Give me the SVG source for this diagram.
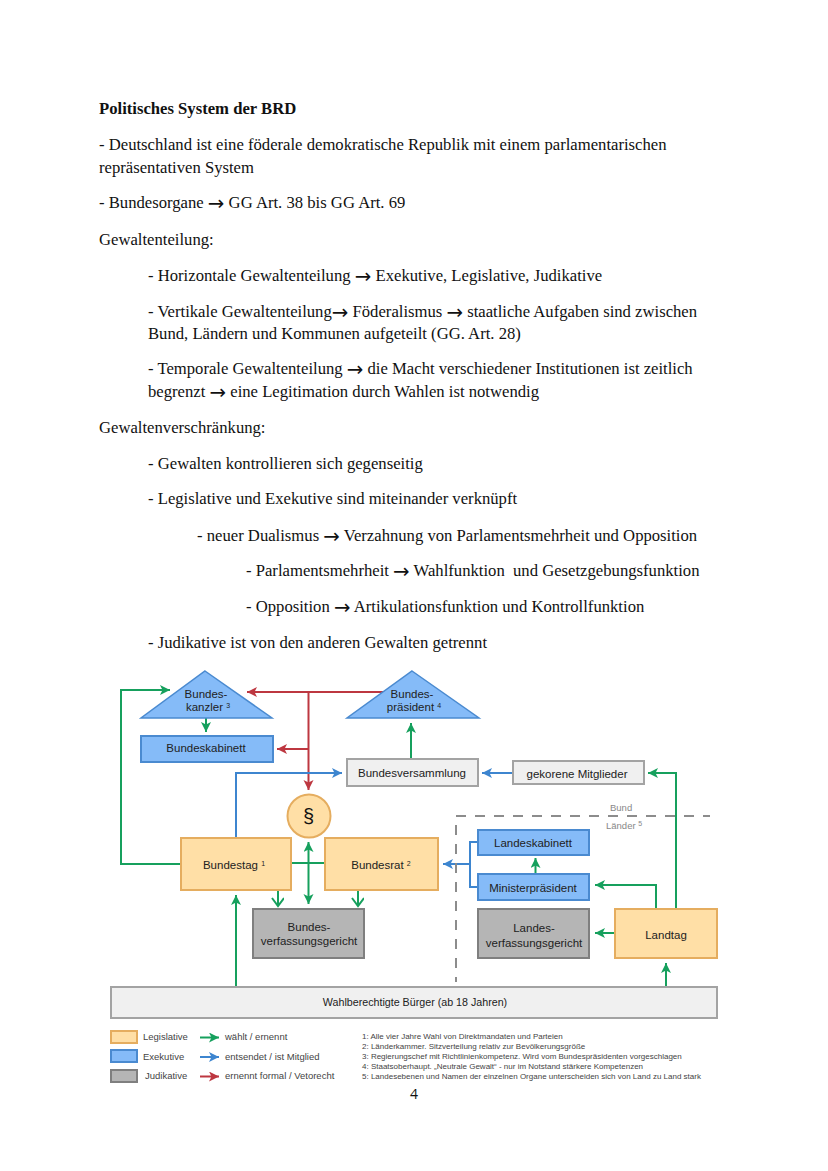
<svg xmlns="http://www.w3.org/2000/svg" width="828" height="1171" viewBox="0 0 828 1171">
<style>
.t{font:16.67px "Liberation Serif",serif;fill:#111}
.a{font-family:"DejaVu Sans",sans-serif;font-size:19.8px;baseline-shift:-1.500px}
.b{font-weight:bold}
.n{font:11.5px "Liberation Sans",sans-serif;fill:#222;text-anchor:middle}
.s{font-size:7px}
.l{font:9.5px "Liberation Sans",sans-serif;fill:#444}
.f{font:8px "Liberation Sans",sans-serif;fill:#444}
.leg{fill:#ffdfa6;stroke:#e5ad5f;stroke-width:2}
.exe{fill:#85bbf8;stroke:#4a8ad0;stroke-width:2}
.jud{fill:#b5b5b5;stroke:#7f7f7f;stroke-width:2}
.gry{fill:#f0f0f0;stroke:#a3a3a3;stroke-width:2}
.tri{stroke-width:1.500}
.c{fill:none;stroke-width:2}
.g{stroke:#16a05d}.bl{stroke:#3d85cf}.r{stroke:#bd3740}
.d{fill:none;stroke:#8c8c8c;stroke-width:2;stroke-dasharray:10 9}
</style>
<defs>
<marker id="ag" markerUnits="userSpaceOnUse" markerWidth="12" markerHeight="12" refX="10" refY="5" orient="auto-start-reverse"><path d="M0 0L10 5L0 10L2.500 5Z" fill="#16a05d"/></marker>
<marker id="ab" markerUnits="userSpaceOnUse" markerWidth="12" markerHeight="12" refX="10" refY="5" orient="auto"><path d="M0 0L10 5L0 10L2.500 5Z" fill="#3d85cf"/></marker>
<marker id="ar" markerUnits="userSpaceOnUse" markerWidth="12" markerHeight="12" refX="10" refY="5" orient="auto"><path d="M0 0L10 5L0 10L2.500 5Z" fill="#bd3740"/></marker>
<marker id="og" markerUnits="userSpaceOnUse" markerWidth="14" markerHeight="14" refX="10" refY="6" orient="auto"><path d="M2 0L10 6L2 12" fill="none" stroke="#16a05d" stroke-width="2"/></marker>
</defs>

<g id="text">
<text class="t b" x="99" y="114">Politisches System der BRD</text>
<text class="t" x="99" y="150">- Deutschland ist eine föderale demokratische Republik mit einem parlamentarischen</text>
<text class="t" x="99" y="173">repräsentativen System</text>
<text class="t" x="99" y="208">- Bundesorgane <tspan class="a">→</tspan> GG Art. 38 bis GG Art. 69</text>
<text class="t" x="99" y="245">Gewaltenteilung:</text>
<text class="t" x="148" y="281">- Horizontale Gewaltenteilung <tspan class="a">→</tspan> Exekutive, Legislative, Judikative</text>
<text class="t" x="148" y="317">- Vertikale Gewaltenteilung<tspan class="a">→</tspan> Föderalismus <tspan class="a">→</tspan> staatliche Aufgaben sind zwischen</text>
<text class="t" x="148" y="339">Bund, Ländern und Kommunen aufgeteilt (GG. Art. 28)</text>
<text class="t" x="148" y="374">- Temporale Gewaltenteilung <tspan class="a">→</tspan> die Macht verschiedener Institutionen ist zeitlich</text>
<text class="t" x="148" y="397">begrenzt <tspan class="a">→</tspan> eine Legitimation durch Wahlen ist notwendig</text>
<text class="t" x="99" y="433">Gewaltenverschränkung:</text>
<text class="t" x="148" y="469">- Gewalten kontrollieren sich gegenseitig</text>
<text class="t" x="148" y="504">- Legislative und Exekutive sind miteinander verknüpft</text>
<text class="t" x="197" y="541">- neuer Dualismus <tspan class="a">→</tspan> Verzahnung von Parlamentsmehrheit und Opposition</text>
<text class="t" x="246" y="576" xml:space="preserve">- Parlamentsmehrheit <tspan class="a">→</tspan> Wahlfunktion  und Gesetzgebungsfunktion</text>
<text class="t" x="246" y="612">- Opposition <tspan class="a">→</tspan> Artikulationsfunktion und Kontrollfunktion</text>
<text class="t" x="148" y="648">- Judikative ist von den anderen Gewalten getrennt</text>
</g>

<g id="connectors">
<path class="c g" d="M181 864H121V690H170" marker-end="url(#ag)"/>
<path class="c g" d="M206 718V732" marker-end="url(#ag)"/>
<path class="c r" d="M386 692H247" marker-end="url(#ar)"/>
<path class="c r" d="M308.500 692V790" marker-end="url(#ar)"/>
<path class="c r" d="M308.500 749H277" marker-end="url(#ar)"/>
<path class="c bl" d="M236 838V773H342" marker-end="url(#ab)"/>
<path class="c g" d="M411 759V723" marker-end="url(#ag)"/>
<path class="c bl" d="M513 773H482" marker-end="url(#ab)"/>
<path class="c g" d="M676 909V773H648" marker-end="url(#ag)"/>
<path class="c g" d="M291 863H325"/>
<path class="c g" d="M308.500 842V904" marker-start="url(#ag)" marker-end="url(#ag)"/>
<path class="c g" d="M278 890V906" marker-end="url(#og)"/>
<path class="c g" d="M358 890V906" marker-end="url(#og)"/>
<path class="c g" d="M236 987V895" marker-end="url(#ag)"/>
<path class="c bl" d="M478 842H470V887H478"/>
<path class="c bl" d="M470 864H443" marker-end="url(#ab)"/>
<path class="c g" d="M535.500 874V858" marker-end="url(#ag)"/>
<path class="c g" d="M656 909V885H595" marker-end="url(#ag)"/>
<path class="c g" d="M615 933H595" marker-end="url(#ag)"/>
<path class="c g" d="M666 987V963" marker-end="url(#ag)"/>
<path class="d" d="M456 816H710"/>
<path class="d" d="M456 825V982"/>
</g>

<g id="bundeskanzler"><path class="exe tri" d="M205 671L272 718H141Z"/><text class="n" x="206" y="698">Bundes-</text><text class="n" x="208" y="711">kanzler <tspan class="s" dy="-3">3</tspan></text></g>
<g id="bundespraesident"><path class="exe tri" d="M412 671L479 718H347Z"/><text class="n" x="412" y="698">Bundes-</text><text class="n" x="414" y="711">präsident <tspan class="s" dy="-3">4</tspan></text></g>
<g id="bundeskabinett"><rect class="exe" x="141" y="736" width="132" height="26"/><text class="n" x="206" y="752">Bundeskabinett</text></g>
<g id="bundesversammlung"><rect class="gry" x="347" y="759" width="131" height="27"/><text class="n" x="412" y="777">Bundesversammlung</text></g>
<g id="gekorene"><rect class="gry" x="513" y="761" width="131" height="23"/><text class="n" x="577" y="778">gekorene Mitglieder</text></g>
<g id="paragraph"><circle class="leg" cx="309" cy="816" r="21.500"/><text class="n" x="308.500" y="823" style="font-size:20px;fill:#111">§</text></g>
<g id="bundestag"><rect class="leg" x="181" y="838" width="110" height="52"/><text class="n" x="234" y="869">Bundestag <tspan class="s" dy="-3">1</tspan></text></g>
<g id="bundesrat"><rect class="leg" x="325" y="838" width="113" height="52"/><text class="n" x="381" y="869">Bundesrat <tspan class="s" dy="-3">2</tspan></text></g>
<g id="bverfg"><rect class="jud" x="253" y="909" width="111" height="49"/><text class="n" x="309" y="931">Bundes-</text><text class="n" x="309" y="945">verfassungsgericht</text></g>
<g id="landeskabinett"><rect class="exe" x="478" y="830" width="111" height="25"/><text class="n" x="533" y="847">Landeskabinett</text></g>
<g id="ministerpraesident"><rect class="exe" x="478" y="874" width="111" height="26"/><text class="n" x="533" y="892">Ministerpräsident</text></g>
<g id="landesvg"><rect class="jud" x="478" y="909" width="111" height="49"/><text class="n" x="534" y="932">Landes-</text><text class="n" x="534" y="947">verfassungsgericht</text></g>
<g id="landtag"><rect class="leg" x="615" y="909" width="102" height="49"/><text class="n" x="666" y="939">Landtag</text></g>
<g id="buerger"><rect class="gry" x="111" y="987" width="606" height="31"/><text class="n" x="415" y="1006" style="font-size:10.700px">Wahlberechtigte Bürger (ab 18 Jahren)</text></g>

<g id="ebenen">
<text class="l" x="610" y="811" style="fill:#888">Bund</text>
<text class="l" x="606" y="829" style="fill:#888">Länder <tspan class="s" dy="-3">5</tspan></text>
</g>

<g id="legende">
<rect class="leg" x="111" y="1031" width="26" height="12"/>
<rect class="exe" x="111" y="1050" width="26" height="12"/>
<rect class="jud" x="111" y="1070" width="26" height="12"/>
<text class="l" x="143" y="1040">Legislative</text>
<text class="l" x="143" y="1060">Exekutive</text>
<text class="l" x="145" y="1079">Judikative</text>
<path class="c g" d="M200 1037.500H219" marker-end="url(#ag)"/>
<path class="c bl" d="M200 1057H219" marker-end="url(#ab)"/>
<path class="c r" d="M200 1076.500H219" marker-end="url(#ar)"/>
<text class="l" x="225" y="1040">wählt / ernennt</text>
<text class="l" x="225" y="1060">entsendet / ist Mitglied</text>
<text class="l" x="225" y="1079">ernennt formal / Vetorecht</text>
<text class="f" x="362" y="1039">1: Alle vier Jahre Wahl von Direktmandaten und Parteien</text>
<text class="f" x="362" y="1049">2: Länderkammer. Sitzverteilung relativ zur Bevölkerungsgröße</text>
<text class="f" x="362" y="1059">3: Regierungschef mit Richtlinienkompetenz. Wird vom Bundespräsidenten vorgeschlagen</text>
<text class="f" x="362" y="1069">4: Staatsoberhaupt. „Neutrale Gewalt“ - nur im Notstand stärkere Kompetenzen</text>
<text class="f" x="362" y="1079">5: Landesebenen und Namen der einzelnen Organe unterscheiden sich von Land zu Land stark</text>
</g>
<text id="seite" x="414" y="1099" text-anchor="middle" style="font:14px 'Open Sans','Liberation Sans',sans-serif;fill:#111">4</text>
</svg>
